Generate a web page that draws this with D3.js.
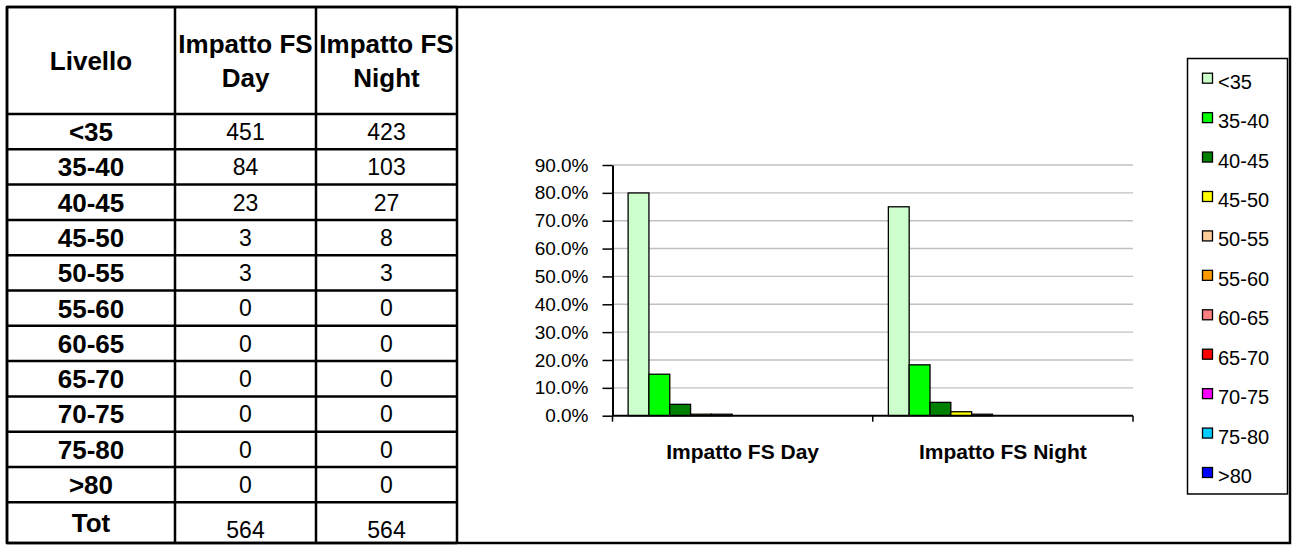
<!DOCTYPE html>
<html>
<head>
<meta charset="utf-8">
<script src="https://cdn.jsdelivr.net/npm/d3@7/dist/d3.min.js"></script>
<style>
  html, body { margin: 0; padding: 0; background: #ffffff; }
  svg { display: block; font-family: Arial, "Liberation Sans", sans-serif; }
</style>
</head>
<body>
<script>
// ---------------- data ----------------
const levels = ["<35", "35-40", "40-45", "45-50", "50-55", "55-60", "60-65", "65-70", "70-75", "75-80", ">80"];
const dayCounts = [451, 84, 23, 3, 3, 0, 0, 0, 0, 0, 0];
const nightCounts = [423, 103, 27, 8, 3, 0, 0, 0, 0, 0, 0];
const totals = [564, 564];
const tableHeaders = ["Livello", "Impatto FS|Day", "Impatto FS|Night"];
const totalLabel = "Tot";
const categories = ["Impatto FS Day", "Impatto FS Night"];
const yTickValues = [0, 0.1, 0.2, 0.3, 0.4, 0.5, 0.6, 0.7, 0.8, 0.9];
const levelColors = ["#ccffcc", "#00ff00", "#008000", "#ffff00", "#ffcc99", "#ff9900", "#ff8080", "#ff0000", "#ff00ff", "#00ccff", "#0000ff"];

// ---------------- setup ----------------
const W = 1296, H = 547;
const svg = d3.select("body").append("svg").attr("width", W).attr("height", H);

// outer frame
svg.append("rect").attr("x", 7).attr("y", 7).attr("width", 1283).attr("height", 536)
  .attr("fill", "none").attr("stroke", "#000").attr("stroke-width", 2.5);

// ---------------- table ----------------
const colX = [7, 175, 316, 457];
const headTop = 7, headBottom = 114, rowH = 35.3, tableBottom = 543;
const rows = levels.map((l, i) => ({ label: l, vals: [dayCounts[i], nightCounts[i]] }));
const rowY = d3.scaleBand().domain(d3.range(rows.length)).range([headBottom, headBottom + rowH * rows.length]);
const totTop = headBottom + rowH * rows.length;

const table = svg.append("g");
const colCenter = i => (colX[i] + colX[i + 1]) / 2;
const boldSize = 26, regSize = 23;

// grid lines
table.selectAll("line.v").data(colX).join("line")
  .attr("x1", d => d).attr("x2", d => d).attr("y1", headTop).attr("y2", tableBottom)
  .attr("stroke", "#000").attr("stroke-width", 2.5);
const hLines = [headTop, ...rows.map((r, i) => rowY(i)), totTop, tableBottom];
table.selectAll("line.h").data(hLines).join("line")
  .attr("x1", colX[0]).attr("x2", colX[3]).attr("y1", d => d).attr("y2", d => d)
  .attr("stroke", "#000").attr("stroke-width", 2.5);

// header text
const headMid = (headTop + headBottom) / 2;
tableHeaders.forEach((h, i) => {
  const lines = h.split("|");
  const spacing = 34;
  lines.forEach((ln, j) => {
    const cy = headMid + (j - (lines.length - 1) / 2) * spacing;
    table.append("text").attr("x", colCenter(i)).attr("y", cy + boldSize * 0.36)
      .attr("text-anchor", "middle").attr("font-weight", "bold").attr("font-size", boldSize)
      .text(ln);
  });
});

// body rows
const rowG = table.selectAll("g.row").data(rows).join("g");
rowG.append("text")
  .attr("x", colCenter(0)).attr("y", (d, i) => rowY(i) + rowH / 2 + boldSize * 0.36)
  .attr("text-anchor", "middle").attr("font-weight", "bold").attr("font-size", boldSize)
  .text(d => d.label);
[0, 1].forEach(k => {
  rowG.append("text")
    .attr("x", colCenter(k + 1)).attr("y", (d, i) => rowY(i) + rowH / 2 + regSize * 0.36)
    .attr("text-anchor", "middle").attr("font-size", regSize)
    .text(d => d.vals[k]);
});
// total row
table.append("text").attr("x", colCenter(0)).attr("y", totTop + 20 + boldSize * 0.36)
  .attr("text-anchor", "middle").attr("font-weight", "bold").attr("font-size", boldSize).text(totalLabel);
totals.forEach((t, k) => {
  table.append("text").attr("x", colCenter(k + 1)).attr("y", totTop + 27 + regSize * 0.36)
    .attr("text-anchor", "middle").attr("font-size", regSize).text(t);
});

// ---------------- chart ----------------
const plotL = 612.5, plotR = 1133, plotT = 165, plotB = 415.7;
const x0 = d3.scaleBand().domain(categories).range([plotL, plotR]).paddingInner(0).paddingOuter(0);
const x1 = d3.scaleBand().domain(levels).range([0, x0.bandwidth()]).paddingInner(0).paddingOuter(0.75);
const y = d3.scaleLinear().domain([0, 0.9]).range([plotB, plotT]);
const color = d3.scaleOrdinal().domain(levels).range(levelColors);

const chart = svg.append("g");

// gridlines
chart.selectAll("line.grid").data(yTickValues.filter(v => v > 0)).join("line")
  .attr("x1", plotL).attr("x2", plotR).attr("y1", d => y(d)).attr("y2", d => y(d))
  .attr("stroke", "#c0c0c0").attr("stroke-width", 1.4);

// bars
const series = categories.map((c, ci) => {
  const counts = ci === 0 ? dayCounts : nightCounts;
  return { cat: c, values: levels.map((l, i) => ({ level: l, pct: counts[i] / totals[ci] })) };
});
const catG = chart.selectAll("g.cat").data(series).join("g")
  .attr("transform", d => `translate(${x0(d.cat)},0)`);
catG.selectAll("rect").data(d => d.values).join("rect")
  .attr("x", d => x1(d.level)).attr("width", x1.bandwidth())
  .attr("y", d => y(d.pct)).attr("height", d => y(0) - y(d.pct))
  .attr("fill", d => color(d.level)).attr("stroke", "#000").attr("stroke-width", 1.3);

// y axis
const yAxis = chart.append("g").attr("transform", `translate(${plotL},0)`)
  .call(d3.axisLeft(y).tickValues(yTickValues).tickFormat(d3.format(".1%")).tickSize(10).tickSizeOuter(0).tickPadding(14));
yAxis.select(".domain").attr("stroke", "#000").attr("stroke-width", 2);
yAxis.selectAll(".tick line").attr("stroke", "#000").attr("stroke-width", 1.5);
yAxis.selectAll(".tick text").attr("font-size", 19).attr("fill", "#000")
  .attr("font-family", "Arial, 'Liberation Sans', sans-serif");

// x axis
chart.append("line").attr("x1", plotL).attr("x2", plotR).attr("y1", plotB).attr("y2", plotB)
  .attr("stroke", "#000").attr("stroke-width", 2);
const bounds = [plotL, ...categories.map(c => x0(c) + x0.bandwidth())];
chart.selectAll("line.xt").data(bounds).join("line")
  .attr("x1", d => d).attr("x2", d => d).attr("y1", plotB).attr("y2", plotB + 6)
  .attr("stroke", "#000").attr("stroke-width", 1.5);
chart.selectAll("text.xl").data(categories).join("text")
  .attr("x", d => x0(d) + x0.bandwidth() / 2).attr("y", 459)
  .attr("text-anchor", "middle").attr("font-weight", "bold").attr("font-size", 21)
  .text(d => d);

// ---------------- legend ----------------
const lg = svg.append("g");
lg.append("rect").attr("x", 1187.5).attr("y", 58.5).attr("width", 100).attr("height", 435.5)
  .attr("fill", "#fff").attr("stroke", "#000").attr("stroke-width", 1.5);
const ly = d3.scalePoint().domain(levels).range([81.7, 476]);
const item = lg.selectAll("g.item").data(levels).join("g")
  .attr("transform", d => `translate(0,${ly(d)})`);
item.append("rect").attr("x", 1202.5).attr("y", -8.5).attr("width", 10).attr("height", 10)
  .attr("fill", d => color(d)).attr("stroke", "#000").attr("stroke-width", 1.3);
item.append("text").attr("x", 1218).attr("y", 7).attr("font-size", 20).text(d => d);
</script>
</body>
</html>
